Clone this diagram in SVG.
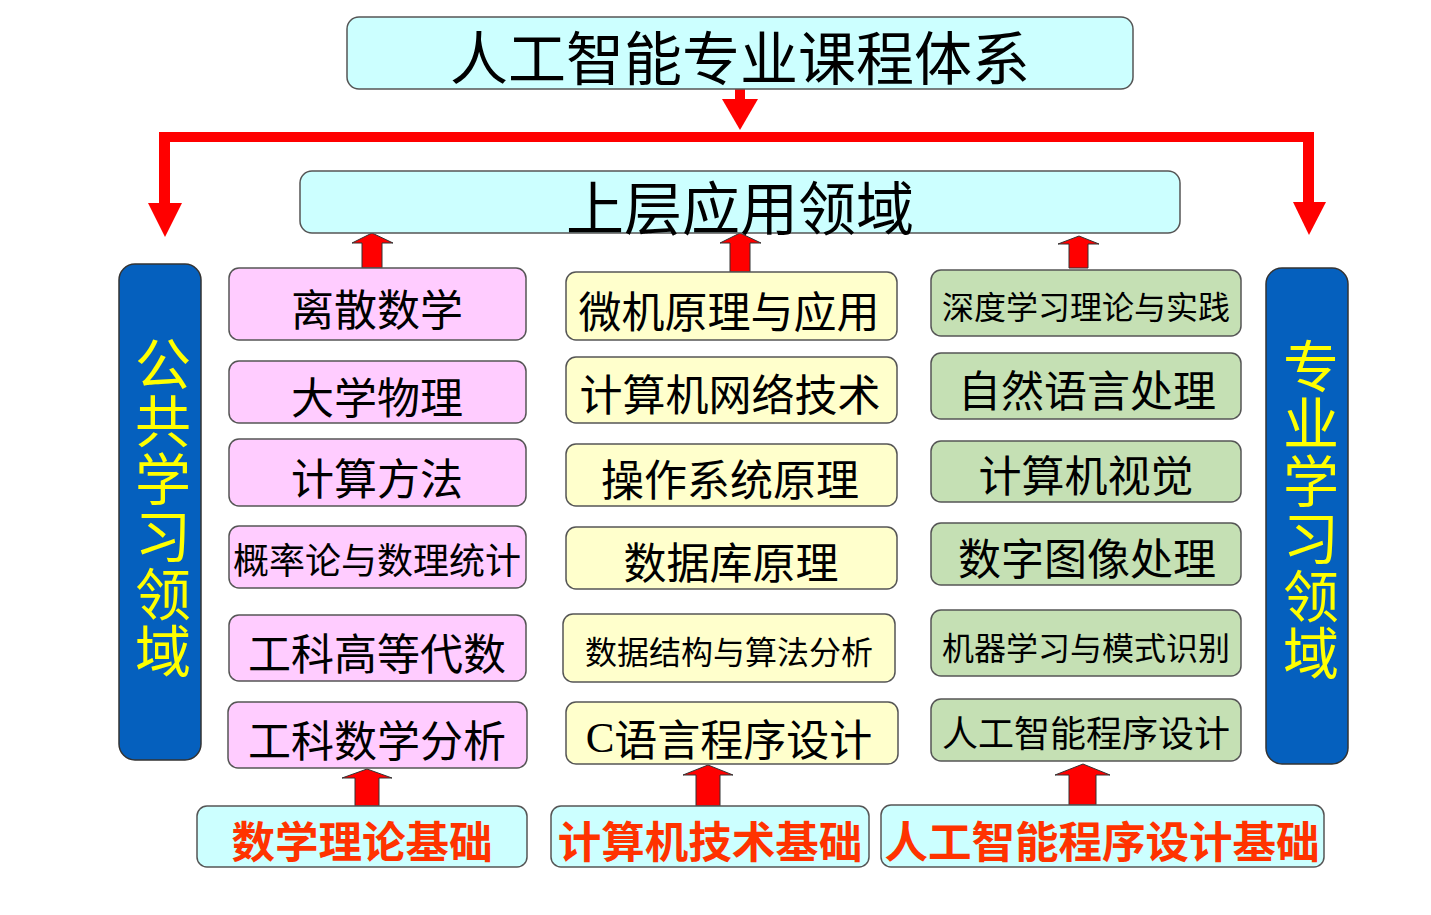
<svg xmlns="http://www.w3.org/2000/svg" width="1431" height="915" viewBox="0 0 1431 915">
<style>
.box{stroke:#555;stroke-width:1.5}
.cy{fill:#ccffff}.pk{fill:#ffccff}.yl{fill:#ffffcc}.gr{fill:#c5e0b4}.bl{fill:#0560be;stroke:#333;stroke-width:1.5}
text{font-family:"Noto Sans CJK SC","Noto Sans",sans-serif;text-anchor:middle;dominant-baseline:central;fill:#000}
.t43{font-size:43px}.t36{font-size:36px}.t32{font-size:32px}.t58{font-size:58px}
.rt{font-size:43.5px;fill:#ff3300;font-weight:bold}
.vt{font-size:56px;fill:#ffff00;writing-mode:vertical-rl;letter-spacing:1.5px}
.ar{fill:#ff0000;stroke:#333;stroke-width:1}
.dr{fill:#ff0000}
</style>
<rect width="1431" height="915" fill="#ffffff"/>
<g id="connectors">
<rect class="dr" x="735" y="89" width="10" height="12"/>
<polygon class="dr" points="722,99 758,99 740,130"/>
<rect class="dr" x="159" y="132" width="1155" height="10"/>
<rect class="dr" x="159" y="132" width="11" height="73"/>
<polygon class="dr" points="148,203 182,203 165,237"/>
<rect class="dr" x="1303" y="132" width="11" height="72"/>
<polygon class="dr" points="1293,202 1326,202 1309,235"/>
<polygon class="ar" points="372,233 393,243 382,243 382,268 362,268 362,243 352,243"/>
<polygon class="ar" points="740,233 761,243 750,243 750,272 730,272 730,243 720,243"/>
<polygon class="ar" points="1079,236 1099,244 1088,244 1088,268 1069,268 1069,244 1058,244"/>
<polygon class="ar" points="367,769 392,778 379,778 379,806 355,806 355,778 342,778"/>
<polygon class="ar" points="708,765 733,775 720,775 720,806 696,806 696,775 683,775"/>
<polygon class="ar" points="1083,764 1110,775 1096,775 1096,805 1069,805 1069,775 1055,775"/>
</g>
<g id="title"><rect class="box cy" x="347" y="17" width="786" height="72" rx="12"/><text class="t58" x="740" y="55">人工智能专业课程体系</text></g>
<g id="upper"><rect class="box cy" x="300" y="171" width="880" height="62" rx="12"/><text class="t58" x="740" y="205">上层应用领域</text></g>
<g id="public"><rect class="bl" x="119" y="264" width="82" height="496" rx="16"/>
<text class="vt" x="163" y="508">公共学习领域</text></g>
<g id="major"><rect class="bl" x="1266" y="268" width="82" height="496" rx="16"/>
<text class="vt" x="1311" y="510">专业学习领域</text></g>
<g id="l1"><rect class="box pk" x="229" y="268" width="297" height="72" rx="10"/><text class="t43" x="377" y="307">离散数学</text></g>
<g id="l2"><rect class="box pk" x="229" y="361" width="297" height="62" rx="10"/><text class="t43" x="377" y="395">大学物理</text></g>
<g id="l3"><rect class="box pk" x="229" y="439" width="297" height="67" rx="10"/><text class="t43" x="377" y="476">计算方法</text></g>
<g id="l4"><rect class="box pk" x="229" y="526" width="297" height="62" rx="10"/><text class="t36" x="377" y="558">概率论与数理统计</text></g>
<g id="l5"><rect class="box pk" x="229" y="615" width="297" height="66" rx="10"/><text class="t43" x="377" y="651">工科高等代数</text></g>
<g id="l6"><rect class="box pk" x="228" y="702" width="299" height="66" rx="10"/><text class="t43" x="377" y="738">工科数学分析</text></g>
<g id="m1"><rect class="box yl" x="566" y="272" width="331" height="68" rx="10"/><text class="t43" x="729" y="309">微机原理与应用</text></g>
<g id="m2"><rect class="box yl" x="566" y="357" width="331" height="66" rx="10"/><text class="t43" x="730" y="392">计算机网络技术</text></g>
<g id="m3"><rect class="box yl" x="566" y="444" width="331" height="62" rx="10"/><text class="t43" x="730" y="477">操作系统原理</text></g>
<g id="m4"><rect class="box yl" x="566" y="527" width="331" height="62" rx="10"/><text class="t43" x="731" y="560">数据库原理</text></g>
<g id="m5"><rect class="box yl" x="563" y="614" width="332" height="68" rx="10"/><text class="t32" x="729" y="650">数据结构与算法分析</text></g>
<g id="m6"><rect class="box yl" x="566" y="702" width="332" height="62" rx="10"/><text class="t43" x="729" y="737"><tspan font-family="Liberation Serif,serif">C</tspan>语言程序设计</text></g>
<g id="r1"><rect class="box gr" x="931" y="270" width="310" height="66" rx="10"/><text class="t32" x="1086" y="305">深度学习理论与实践</text></g>
<g id="r2"><rect class="box gr" x="931" y="353" width="310" height="66" rx="10"/><text class="t43" x="1087" y="388">自然语言处理</text></g>
<g id="r3"><rect class="box gr" x="931" y="441" width="310" height="61" rx="10"/><text class="t43" x="1086" y="473">计算机视觉</text></g>
<g id="r4"><rect class="box gr" x="931" y="523" width="310" height="62" rx="10"/><text class="t43" x="1087" y="556">数字图像处理</text></g>
<g id="r5"><rect class="box gr" x="931" y="610" width="310" height="66" rx="10"/><text class="t32" x="1086" y="646">机器学习与模式识别</text></g>
<g id="r6"><rect class="box gr" x="931" y="699" width="310" height="62" rx="10"/><text class="t36" x="1086" y="731">人工智能程序设计</text></g>
<g id="b1"><rect class="box cy" x="197" y="806" width="330" height="61" rx="10"/><text class="rt" x="362" y="839">数学理论基础</text></g>
<g id="b2"><rect class="box cy" x="551" y="806" width="318" height="61" rx="10"/><text class="rt" x="710" y="839">计算机技术基础</text></g>
<g id="b3"><rect class="box cy" x="881" y="805" width="443" height="62" rx="10"/><text class="rt" x="1102" y="839">人工智能程序设计基础</text></g>
</svg>
